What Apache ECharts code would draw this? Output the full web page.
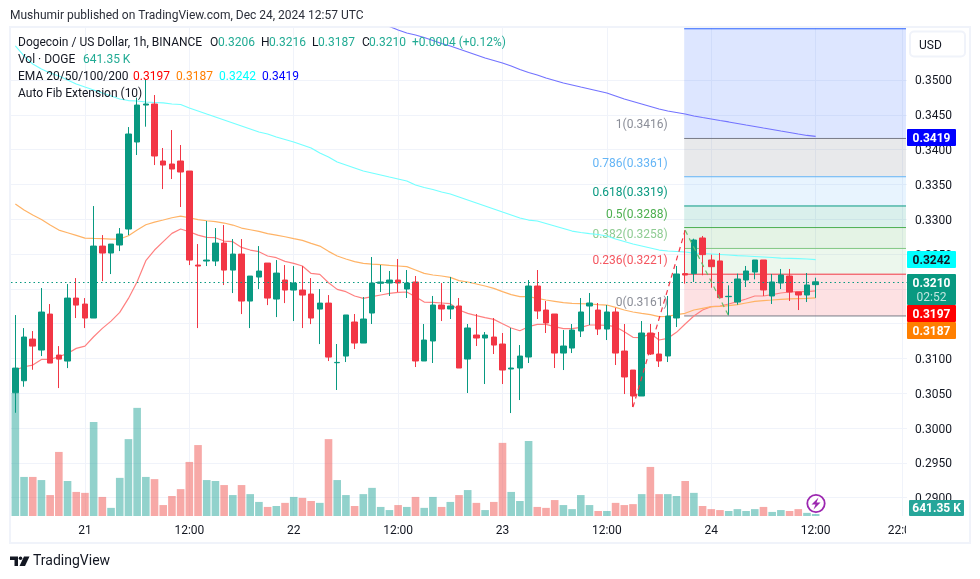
<!DOCTYPE html>
<html><head><meta charset="utf-8">
<style>html,body{margin:0;padding:0;background:#fff}#c{width:980px;height:579px}</style>
<script src="https://cdn.jsdelivr.net/npm/echarts@6/dist/echarts.min.js"></script>
</head><body><div id="c"></div>
<script>
// [open, close, low, high]
const ohlc=[
[.30507,.30861,.30219,.31623],[.30679,.31307,.30593,.31436],[.31278,.31177,.30837,.31393],[.3112,.31666,.31034,.32011],[.31637,.30933,.30933,.31781],
[.31048,.3099,.30574,.31177],[.30962,.31867,.30861,.32068],[.31867,.31766,.3158,.32154],[.31781,.3158,.31436,.31867],[.3158,.32614,.3158,.33189],
[.32614,.32514,.32111,.32772],[.32514,.32643,.32212,.32643],[.32629,.32787,.32542,.32873],[.32859,.34224,.32772,.34324],[.34109,.3464,.33922,.34746],
[.3464,.34655,.34329,.35009],[.34655,.33908,.33778,.34784],[.33836,.33778,.33433,.34023],[.33793,.33721,.33577,.34281],[.33836,.33678,.33175,.34066],
[.33692,.32413,.32341,.33692],[.32341,.32327,.31436,.32643],[.32399,.32413,.32327,.32974],[.32399,.32657,.32327,.32873],[.32657,.32269,.32054,.32916],
[.32269,.32499,.31939,.32715],[.32499,.31824,.31637,.32715],[.31824,.32183,.31436,.32183],[.32169,.32255,.31996,.32614],[.3237,.31867,.31766,.3237],
[.31853,.32226,.31594,.32413],[.32126,.31982,.31795,.32341],[.31982,.32083,.31537,.32327],[.31982,.3191,.31436,.32327],[.31925,.3158,.31493,.32154],
[.31709,.31795,.31206,.31996],[.31795,.31019,.30962,.3191],[.30938,.30943,.30546,.31207],[.31034,.31624,.30948,.31624],[.31523,.31221,.31135,.31638],
[.31221,.31566,.31221,.31882],[.31652,.32083,.31494,.32457],[.32079,.32098,.31954,.32342],[.32083,.32126,.31897,.32256],[.32126,.32083,.31954,.32428],
[.31997,.32083,.31868,.3227],[.32098,.30963,.30876,.32184],[.30963,.31264,.30963,.31494],[.3125,.31767,.30934,.31897],[.31767,.3171,.31537,.32083],
[.3171,.31753,.31566,.3217],[.31753,.30862,.30862,.31868],[.30991,.31437,.30503,.31494],[.31336,.31293,.31178,.31638],[.31293,.31336,.30632,.31379],
[.31307,.31192,.31063,.3158],[.31207,.30833,.30632,.31365],[.30848,.30862,.30215,.31437],[.30862,.31034,.30402,.31192],[.3102,.3204,.30934,.32126],
[.3204,.31681,.31566,.3227],[.31695,.31509,.31365,.31825],[.31638,.31077,.30862,.31638],[.31077,.31178,.30833,.31408],[.31149,.31408,.31077,.31494],
[.31394,.31667,.31307,.31868],[.31753,.31796,.3148,.3194],[.31695,.31422,.31336,.31796],[.31422,.31667,.31264,.31767],[.31667,.31077,.30905,.31724],
[.31106,.30733,.30488,.31494],[.30833,.3046,.30302,.30833],[.3046,.31365,.3046,.31537],[.31365,.31063,.31049,.31495],[.31063,.30963,.30877,.3138],
[.31035,.31609,.30948,.31897],[.31581,.32213,.31451,.32328],[.32218,.32198,.32074,.3284],[.32218,.32701,.32098,.3272],[.3273,.32491,.32194,.32759],
[.32414,.32318,.32016,.32491],[.324,.31873,.31873,.32515],[.31887,.31892,.31619,.3205],[.3181,.32141,.31772,.32218],[.32127,.32256,.32026,.32328],
[.32241,.32414,.32136,.32414],[.32414,.31983,.31897,.32414],[.31897,.32098,.31782,.32213],[.32083,.32198,.31997,.32285],[.32184,.31954,.31825,.32285],
[.31954,.31911,.31695,.31954],[.31911,.32055,.3181,.32227],[.3206,.3210,.3187,.3216]];
// volume, millions of DOGE
const volumes=[39.4,12.5,12.5,11.5,6.7,20.5,11.2,7.7,7.4,30.1,6.1,2.6,12.2,24.6,34.6,12.5,11.8,3.5,6.4,8.6,17.3,22.7,11.5,11.2,9.9,6.7,9.9,7.0,4.5,2.9,3.2,4.2,6.1,5.8,4.8,4.2,24.6,11.5,6.7,3.2,7.0,9.0,2.9,1.9,3.5,2.9,6.1,2.6,6.1,2.9,4.5,6.7,8.3,4.2,1.9,4.5,23.4,7.7,4.8,24.0,2.9,2.6,5.1,3.5,2.2,6.7,3.5,1.6,1.6,4.2,3.5,3.8,7.0,15.7,7.0,7.0,6.4,11.2,7.4,3.2,2.2,1.9,1.6,2.2,1.6,2.2,2.9,1.3,1.9,1.6,2.2,1.0,0.64];
const ema20=[.30832,.3088,.30904,.30986,.30986,.31024,.31072,.31144,.31177,.31311,.31431,.31536,.31661,.31862,.32102,.32404,.32557,.32677,.32796,.32859,.3282,.32772,.32739,.32734,.32686,.32677,.32595,.32557,.32533,.32471,.32447,.32394,.32365,.32327,.32221,.32207,.32087,.31992,.31959,.31897,.31863,.31887,.31911,.31935,.31949,.31954,.31887,.3181,.31806,.31796,.31786,.31695,.31647,.31614,.31585,.31561,.31499,.31437,.31398,.31456,.31489,.31489,.31456,.31427,.31427,.31446,.3148,.3148,.31475,.31456,.31384,.31303,.31298,.3136,.31265,.31289,.31375,.31495,.31609,.31696,.31744,.31753,.31782,.31815,.31854,.31897,.31897,.31916,.3194,.31954,.31959,.31959,.3197];
const ema50=[.33218,.33132,.3306,.32997,.32916,.32844,.32806,.32768,.32729,.32724,.3272,.32715,.32715,.32763,.32844,.32921,.32959,.32988,.33021,.33045,.33021,.32993,.32978,.32964,.32945,.32916,.32873,.32849,.32825,.32792,.32772,.32748,.3272,.32696,.32653,.32614,.32538,.32471,.32428,.3239,.32366,.32356,.32347,.32337,.32328,.32318,.3227,.32222,.32198,.32184,.32165,.32117,.32098,.32069,.3204,.32007,.31959,.31916,.31887,.31887,.31863,.31839,.3182,.31801,.31791,.31786,.31782,.31772,.31767,.31734,.31695,.31667,.31647,.31628,.316,.31605,.31629,.31648,.31696,.3172,.31744,.31748,.31758,.31772,.31796,.3182,.3183,.31839,.31849,.31854,.31859,.31863,.3187];
const ema100=[.35489,.35345,.3523,.35158,.35101,.35057,.35,.34943,.34899,.34856,.34813,.3477,.34727,.34705,.34698,.34684,.34677,.3467,.34655,.34648,.34598,.34555,.34511,.34468,.34425,.34382,.34339,.34296,.34253,.34224,.34181,.34145,.34109,.34066,.34023,.33951,.33894,.33822,.33779,.33736,.33693,.33664,.33635,.33606,.33578,.33549,.33491,.33455,.33427,.33391,.33362,.33319,.33276,.33233,.3319,.33147,.33103,.3306,.33017,.32988,.32974,.32938,.32902,.32866,.3283,.32809,.32794,.3278,.32759,.32715,.3268,.32644,.32615,.32586,.32557,.32543,.32536,.32529,.32514,.32507,.325,.32493,.32486,.32478,.32471,.32464,.32457,.3245,.32442,.32438,.32434,.32428,.3242];
const ema200Start=43;
const ema200=[.35769,.35718,.35675,.35647,.35611,.35568,.35524,.35489,.35445,.35402,.35359,.35316,.3528,.35244,.35201,.35151,.35108,.35072,.35029,.34993,.34957,.34928,.34899,.34871,.34842,.34813,.3477,.34727,.34691,.34655,.34619,.34583,.34555,.34533,.34511,.34483,.34461,.3444,.34418,.34397,.34375,.34353,.34332,.3431,.34289,.34267,.34246,.34224,.34203,.3419];
const priceTicks=[.29,.295,.30,.305,.31,.315,.32,.325,.33,.335,.34,.345,.35];
const tickLabels={8:'21',20:'12:00',32:'22',44:'12:00',56:'23',68:'12:00',80:'24',92:'12:00',102:'22:00'};
const barCount=103;
const categories=Array.from({length:barCount},(_,i)=>'h'+i);
const lastPrice=.3210;
const fibStart=77;
const fibLevels=['0','0.236','0.382','0.5','0.618','0.786','1','1.618'];
const fibPrices=[.3161,.3221,.3258,.3288,.3319,.3361,.3416,.35736];
const fibLine=['#787b86','#f23645','#81c784','#4caf50','#089981','#64b5f6','#787b86','#2962ff'];
const fibFill=['rgba(242,54,69,.15)','rgba(129,199,132,.15)','rgba(76,175,80,.15)','rgba(8,153,129,.15)','rgba(100,181,246,.15)','rgba(120,123,134,.17)','rgba(41,98,255,.16)'];
const fibTextColor=['#8b8e98','#f4555f','#8fcc93','#4caf50','#089981','#64b5f6','#8b8e98'];
const trendUp=[[71,.3030],[77,.3284]];
const trendDown=[[77,.3284],[82,.3161]];

const UP='#089981',DOWN='#f23645',VUP='rgba(38,166,154,.5)',VDOWN='rgba(239,83,80,.5)',GRID='#f0f3fa',FONT='Roboto',INK='#131722',TEAL='#22ab94';
const isUp=i=>ohlc[i][1]>=ohlc[i][0];
function pad(a,start){const r=new Array(start||0).fill(null).concat(a);return r;}
function t(text,x,y,fill,extra){return {type:'text',z:120,style:Object.assign({text,x,y:y+1,fill,font:'12px '+FONT,textVerticalAlign:'middle'},extra||{})};}
function badge(x,y,w,h,bg,text,fg){return [{type:'rect',z:110,shape:{x,y,width:w,height:h,r:1},style:{fill:bg}},t(text,x+w/2,y+h/2,fg,{textAlign:'center',font:'bold 12px '+FONT})];}

const chart=echarts.init(document.getElementById('c'),null,{renderer:'canvas'});
chart.setOption({
 animation:false,backgroundColor:'#fff',
 textStyle:{fontFamily:FONT},
 grid:{left:11,right:73,top:28,bottom:63,containLabel:false},
 xAxis:{type:'category',data:categories,boundaryGap:true,
   axisLine:{show:false},axisTick:{show:false,alignWithLabel:true},
   axisLabel:{interval:i=>i in tickLabels,formatter:(v,i)=>tickLabels[i]||'',color:INK,fontSize:12,fontFamily:FONT,margin:9,showMaxLabel:true,hideOverlap:false},
   splitLine:{show:true,alignWithLabel:true,interval:i=>i in tickLabels,lineStyle:{color:GRID,width:1}}},
 yAxis:[
  {type:'value',position:'right',min:.28736,max:.35747,scale:true,
   axisLine:{show:false},
   axisTick:{show:false,customValues:priceTicks},
   axisLabel:{customValues:priceTicks,formatter:v=>v.toFixed(4),color:INK,fontSize:12,fontFamily:FONT,margin:8,verticalAlign:'top',lineHeight:3},
   splitLine:{show:true,lineStyle:{color:GRID,width:1}}},
  {type:'value',min:0,max:156.16,show:false,splitLine:{show:false}}
 ],
 series:[
  {type:'custom',name:'Auto Fib Extension',z:1,clip:false,silent:true,
   data:fibPrices.map(p=>[fibStart,p]),encode:{x:0,y:1},
   renderItem(params,api){
     const i=params.dataIndex,cs=params.coordSys;
     const left=api.coord([api.value(0),api.value(1)])[0]-1,right=cs.x+cs.width-1;
     const y=api.coord([api.value(0),fibPrices[i]])[1];
     const kids=[];
     if(i<fibPrices.length-1){
       const y2=api.coord([api.value(0),fibPrices[i+1]])[1];
       kids.push({type:'rect',shape:{x:left,y:y2,width:right-left,height:y-y2},style:{fill:fibFill[i]}});
       const lx=api.coord([75,fibPrices[i]])[0];
       kids.push({type:'text',z2:5,style:{text:fibLevels[i]+'('+fibPrices[i].toFixed(4)+')',x:lx,y:y-13,textAlign:'right',textVerticalAlign:'middle',fill:fibTextColor[i],font:'12px '+FONT}});
     }
     kids.push({type:'line',shape:{x1:left,y1:y,x2:right,y2:y},style:{stroke:fibLine[i],lineWidth:1}});
     return {type:'group',children:kids};
   }},
  {type:'bar',name:'Vol',yAxisIndex:1,z:2,barWidth:7.6,silent:true,
   data:volumes.map((v,i)=>({value:v,itemStyle:{color:isUp(i)?VUP:VDOWN}}))},
  {type:'line',name:'EMA 20',z:3,data:ema20,showSymbol:false,symbol:'none',silent:true,lineStyle:{color:'#ff8080',width:1.2}},
  {type:'line',name:'EMA 50',z:3,data:ema50,showSymbol:false,symbol:'none',silent:true,lineStyle:{color:'#ffb366',width:1.2}},
  {type:'line',name:'EMA 100',z:3,data:ema100,showSymbol:false,symbol:'none',silent:true,lineStyle:{color:'#73ffff',width:1.2}},
  {type:'line',name:'EMA 200',z:3,data:pad(ema200,ema200Start),showSymbol:false,symbol:'none',silent:true,lineStyle:{color:'#7373ff',width:1.2}},
  {type:'candlestick',name:'DOGEUSD',z:4,barWidth:6,silent:true,data:ohlc,
   itemStyle:{color:UP,color0:DOWN,borderColor:UP,borderColor0:DOWN,borderWidth:1},
   markLine:{silent:true,symbol:'none',precision:4,label:{show:false},z:5,
     lineStyle:{color:UP,type:[1.5,3],width:1.2,opacity:1},data:[{yAxis:lastPrice}]}},
  {type:'line',name:'trend up',z:5,data:trendUp,showSymbol:false,symbol:'none',silent:true,lineStyle:{color:'#f23645',width:1.2,type:[5,4]}},
  {type:'line',name:'trend down',z:5,data:trendDown,showSymbol:false,symbol:'none',silent:true,lineStyle:{color:'#66bb6a',width:1.2,type:[5,4]}}
 ],
 graphic:[
  {type:'rect',z:0,shape:{x:10,y:27,width:960,height:516},style:{fill:'none',stroke:GRID,lineWidth:2}},
  {type:'rect',z:50,shape:{x:906,y:517,width:63,height:25},style:{fill:'#fff'}},
  t('Mushumir published on TradingView.com, Dec 24, 2024 12:57 UTC',10,15,'#2a2e39'),
  t('Dogecoin / US Dollar, 1h, BINANCE',18,42,INK),
  t('O',210,42,INK),t('0.3206',218,42,TEAL),t('H',261,42,INK),t('0.3216',269,42,TEAL),t('L',312,42,INK),t('0.3187',318,42,TEAL),t('C',362,42,INK),t('0.3210',369,42,TEAL),
  t('+0.0004 (+0.12%)',412,42,TEAL),
  t('Vol · DOGE',18,59,INK),t('641.35 K',83,59,TEAL),
  t('EMA 20/50/100/200',18,75.5,INK),t('0.3197',133,75.5,'#ff0000'),t('0.3187',176,75.5,'#ff7f00'),t('0.3242',219,75.5,'#00ffff'),t('0.3419',262,75.5,'#0000ff'),
  t('Auto Fib Extension (10)',18,92.5,INK),
  {type:'rect',z:60,shape:{x:910,y:31.5,width:55,height:25,r:4},style:{fill:'#fff',stroke:GRID,lineWidth:2}},
  t('USD',919,44.5,INK),
  ...badge(907,129,49,17,'#0000ff','0.3419','#fff'),
  ...badge(907,251,49,17,'#00ffff','0.3242',INK),
  {type:'rect',z:110,shape:{x:907,y:274,width:49,height:31,r:1},style:{fill:UP}},
  t('0.3210',931.5,282.5,'#fff',{textAlign:'center',font:'bold 12px '+FONT}),
  t('02:52',931.5,296.5,'rgba(255,255,255,.75)',{textAlign:'center'}),
  ...badge(907,305,49,17,'#ff0000','0.3197','#fff'),
  ...badge(907,322,49,17,'#ff7f00','0.3187','#fff'),
  ...badge(909,500,55,16,'#26a69a','641.35 K','#fff'),
  {type:'circle',z:115,shape:{cx:816,cy:503.5,r:8.7},style:{fill:'#fff',stroke:'#9c27b0',lineWidth:1.8}},
  {type:'polygon',z:116,shape:{points:[[818.5,497.5],[811.5,504.5],[815.5,504.5],[813.5,509.5],[820.5,502.5],[816.5,502.5]]},style:{fill:'#9c27b0'}},
  {type:'polygon',z:116,shape:{points:[[10,556.5],[18,556.5],[18,566],[14.5,566],[14.5,560],[10,560]]},style:{fill:INK}},
  {type:'circle',z:116,shape:{cx:20.5,cy:558.2,r:1.8},style:{fill:INK}},
  {type:'polygon',z:116,shape:{points:[[24,556.5],[29.5,556.5],[25,566],[19.5,566]]},style:{fill:INK}},
  t('TradingView',33,560.5,INK,{font:'14px '+FONT})
 ]
});
</script></body></html>
